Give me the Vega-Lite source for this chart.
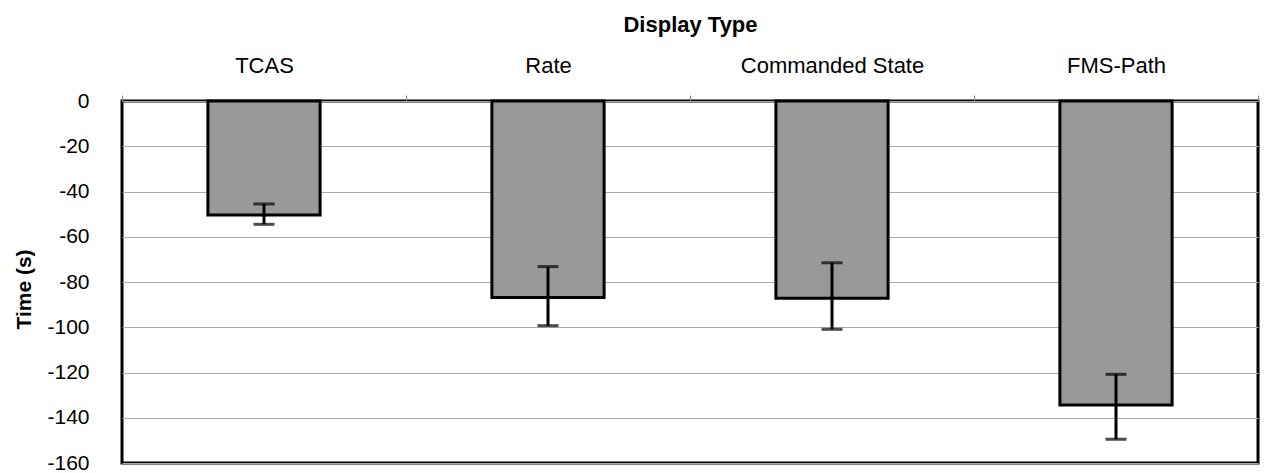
{
  "$schema": "https://vega.github.io/schema/vega-lite/v6.json",
  "width": 1136,
  "height": 362,
  "autosize": "none",
  "padding": {"left": 122, "top": 101, "right": 6, "bottom": 10},
  "background": "white",
  "config": {
    "view": {"stroke": "black", "strokeWidth": 3},
    "font": "Liberation Sans"
  },
  "data": {
    "values": [
      {"display": "TCAS", "mean": -50.4, "lo": -45.5, "hi": -54.5},
      {"display": "Rate", "mean": -86.8, "lo": -73.2, "hi": -99.3},
      {"display": "Commanded State", "mean": -87.2, "lo": -71.5, "hi": -100.9},
      {"display": "FMS-Path", "mean": -134.4, "lo": -120.8, "hi": -149.5}
    ]
  },
  "encoding": {
    "x": {
      "field": "display",
      "type": "nominal",
      "sort": null,
      "scale": {"paddingInner": 0, "paddingOuter": 0},
      "axis": {
        "orient": "top",
        "title": "Display Type",
        "titleFontSize": 22,
        "titleFontWeight": "bold",
        "titleColor": "black",
        "titlePadding": 18,
        "labelFontSize": 22,
        "labelColor": "black",
        "labelAngle": 0,
        "labelPadding": 18,
        "labelLimit": 0,
        "tickBand": "extent",
        "tickSize": 6,
        "tickColor": "#888888",
        "domain": false,
        "grid": false
      }
    }
  },
  "layer": [
    {
      "mark": {"type": "bar", "width": {"band": 0.395}, "fill": "#999999", "stroke": "black", "strokeWidth": 3},
      "encoding": {
        "y": {
          "field": "mean",
          "type": "quantitative",
          "scale": {"domain": [-160, 0], "nice": false},
          "axis": {
            "title": "Time (s)",
            "titleFontSize": 21,
            "titleFontWeight": "bold",
            "titleColor": "black",
            "titlePadding": 12,
            "titleY": 188,
            "labelFontSize": 21,
            "labelColor": "black",
            "labelPadding": 33,
            "labelExpr": "'' + datum.value",
            "values": [0, -20, -40, -60, -80, -100, -120, -140, -160],
            "ticks": false,
            "domain": false,
            "grid": true,
            "gridColor": "#aaaaaa",
            "gridWidth": 1
          }
        }
      }
    },
    {
      "mark": {"type": "rule", "strokeWidth": 3, "color": "black"},
      "encoding": {
        "y": {"field": "lo", "type": "quantitative"},
        "y2": {"field": "hi"}
      }
    },
    {
      "mark": {"type": "tick", "thickness": 3, "size": 21, "color": "black", "orient": "horizontal"},
      "encoding": {"y": {"field": "lo", "type": "quantitative"}}
    },
    {
      "mark": {"type": "tick", "thickness": 3, "size": 21, "color": "black", "orient": "horizontal"},
      "encoding": {"y": {"field": "hi", "type": "quantitative"}}
    }
  ]
}
